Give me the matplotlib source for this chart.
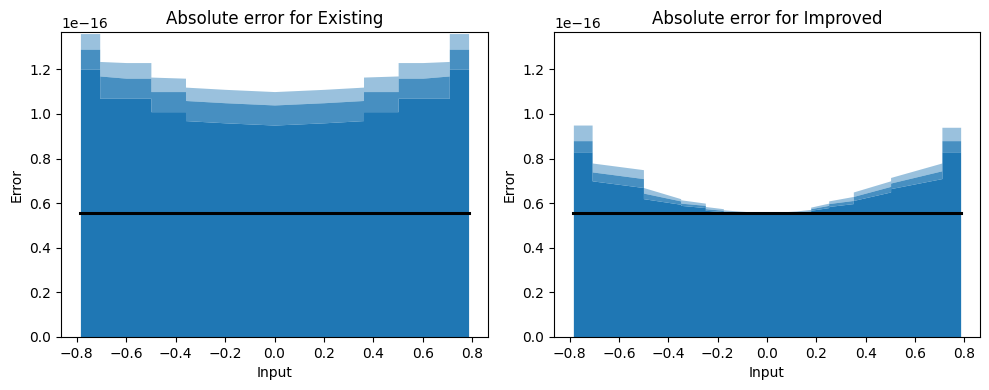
import matplotlib
matplotlib.use("Agg")
import matplotlib.pyplot as plt
import numpy as np

# ---- data (errors in units of 1e-16) ----
scale = 1e-16
ulp_half = 0.555

# Existing: envelope of the scatter cloud (x positions, upper max, mid-density, solid-density)
ex_x = [-0.785, -0.707, -0.707, -0.60, -0.50, -0.50, -0.36, -0.36, -0.20, 0.00, 0.20, 0.36, 0.36, 0.50, 0.50, 0.60, 0.707, 0.707, 0.785]
ex_max = [1.36, 1.36, 1.235, 1.23, 1.23, 1.165, 1.16, 1.12, 1.11, 1.10, 1.11, 1.12, 1.165, 1.17, 1.23, 1.23, 1.235, 1.36, 1.36]
ex_mid = [1.29, 1.29, 1.17, 1.16, 1.16, 1.10, 1.10, 1.06, 1.05, 1.04, 1.05, 1.06, 1.10, 1.10, 1.16, 1.16, 1.17, 1.29, 1.29]
ex_solid = [1.20, 1.20, 1.07, 1.07, 1.07, 1.01, 1.01, 0.97, 0.96, 0.95, 0.96, 0.97, 1.01, 1.01, 1.07, 1.07, 1.07, 1.20, 1.20]

# Improved: envelope of the scatter cloud
im_x = [-0.785, -0.709, -0.709, -0.501, -0.501, -0.35, -0.35, -0.25, -0.25, -0.177, -0.177, -0.12, -0.05, 0.00,
        0.05, 0.12, 0.177, 0.177, 0.25, 0.25, 0.35, 0.35, 0.501, 0.501, 0.709, 0.709, 0.785]
im_max = [0.95, 0.95, 0.78, 0.75, 0.67, 0.62, 0.615, 0.60, 0.585, 0.575, 0.570, 0.565, 0.560, 0.558,
          0.560, 0.565, 0.572, 0.582, 0.600, 0.610, 0.630, 0.650, 0.700, 0.715, 0.780, 0.94, 0.94]
im_mid = [0.88, 0.88, 0.74, 0.71, 0.645, 0.61, 0.60, 0.59, 0.575, 0.568, 0.563, 0.560, 0.557, 0.556,
          0.557, 0.560, 0.565, 0.575, 0.590, 0.598, 0.612, 0.630, 0.675, 0.690, 0.745, 0.88, 0.88]
im_solid = [0.83, 0.83, 0.70, 0.67, 0.62, 0.595, 0.59, 0.58, 0.568, 0.562, 0.558, 0.556, 0.555, 0.555,
            0.555, 0.556, 0.560, 0.568, 0.580, 0.585, 0.598, 0.612, 0.650, 0.665, 0.710, 0.83, 0.83]

line_x = [-0.785, 0.785]
line_y = [ulp_half, ulp_half]

titles = ["Absolute error for Existing", "Absolute error for Improved"]
color = "#1f77b4"

fig, axes = plt.subplots(1, 2, figsize=(9.89, 3.9), dpi=100)
positions = [[61/989, 1-337/390, (488-61)/989, (337-32)/390],
             [554/989, 1-337/390, (980-554)/989, (337-32)/390]]

panels = [(ex_x, ex_max, ex_mid, ex_solid), (im_x, im_max, im_mid, im_solid)]
for ax, (x, mx, md, sd), title, pos in zip(axes, panels, titles, positions):
    ax.set_position(pos)
    x = np.array(x)
    mx = np.array(mx) * scale
    md = np.array(md) * scale
    sd = np.array(sd) * scale
    ax.fill_between(x, 0, sd, color=color, linewidth=0)
    ax.fill_between(x, sd, md, color=color, alpha=0.82, linewidth=0)
    ax.fill_between(x, md, mx, color=color, alpha=0.45, linewidth=0)
    ax.plot(line_x, np.array(line_y) * scale, color="black", linewidth=2.2)
    ax.set_xlim(-0.8635, 0.8635)
    ax.set_ylim(0, 1.367e-16)
    ax.set_title(title)
    ax.set_xlabel("Input")
    ax.set_ylabel("Error")

fig.savefig("out.png", dpi=100)
